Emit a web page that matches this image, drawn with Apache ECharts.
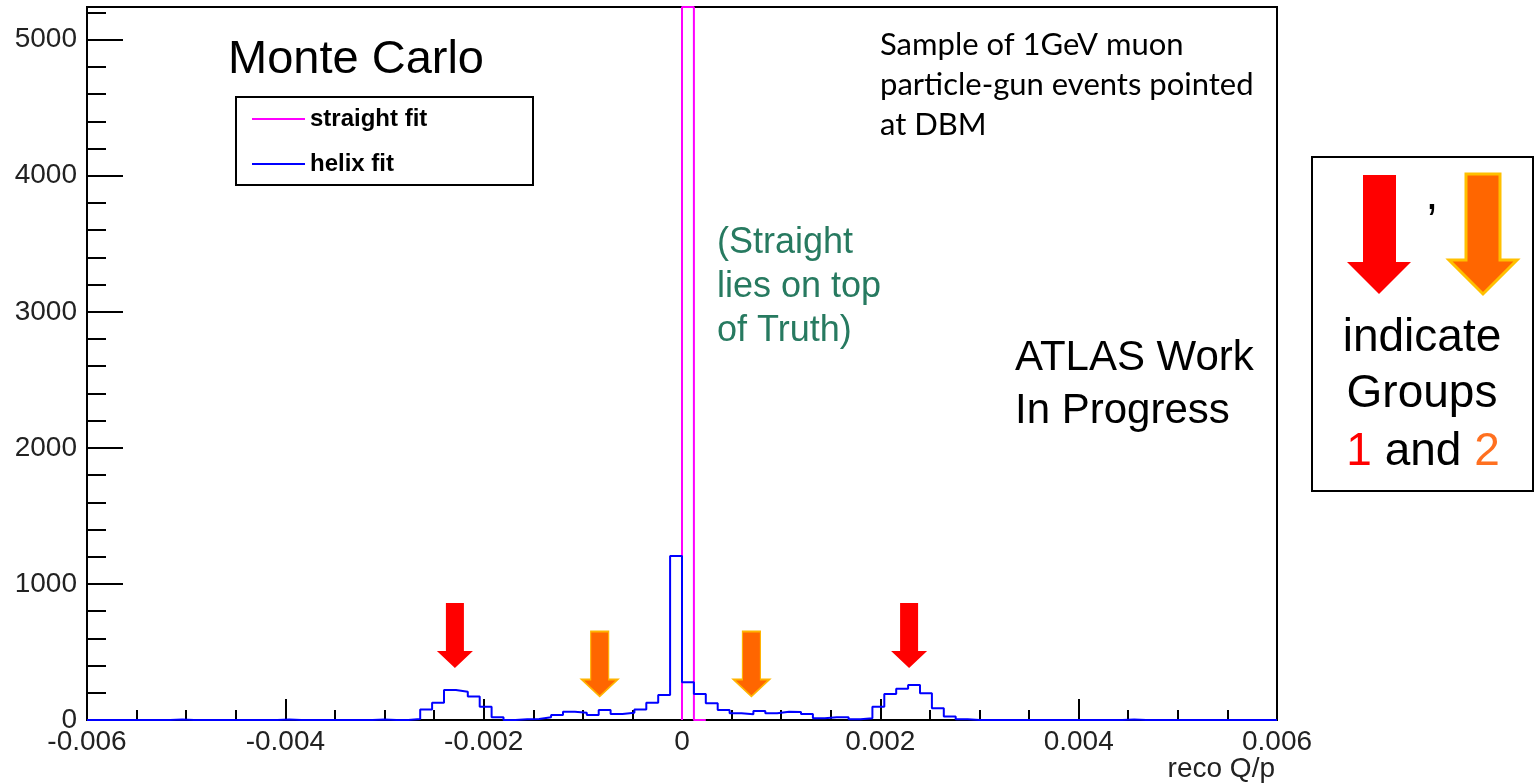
<!DOCTYPE html>
<html>
<head>
    <meta charset="utf-8">
    <title>reco Q/p - straight vs helix fit</title>
    <script src="https://cdn.jsdelivr.net/npm/echarts@6.0.0/dist/echarts.min.js"></script>
    <style type="text/css">
        html, body {
            margin: 0;
            padding: 0;
            background: #ffffff;
        }
        #main {
            width: 1537px;
            height: 783px;
        }
    </style>
</head>
<body>
<div id="main"></div>
<script>
    // histogram: 100 bins from -0.006 to 0.006
    var lowEdge = -0.006;
    var binWidth = 0.00012;

    // helix fit counts per bin
    var helixCounts = [
        0, 0, 0, 0, 0, 0, 0, 3, 0, 0,
        0, 0, 0, 0, 0, 0, 3, 0, 0, 0,
        0, 0, 0, 0, 4, 0, 0, 7, 78, 127,
        220, 208, 172, 98, 20, 0, 5, 8, 20, 37,
        61, 54, 37, 74, 44, 54, 78, 127, 184, 1205,
        277, 191, 123, 74, 49, 42, 66, 49, 61, 59,
        44, 12, 20, 20, 5, 12, 98, 191, 230, 257,
        196, 86, 25, 5, 0, 0, 0, 0, 0, 0,
        0, 0, 0, 0, 0, 0, 0, 4, 0, 0,
        0, 0, 0, 0, 0, 0, 0, 0, 0, 0
    ];

    // straight fit: everything in one bin just above 0, clipped at the frame top
    var straightBin = 50;
    var straightPeak = 5240;

    var yTicks = [0, 1000, 2000, 3000, 4000, 5000];
    var yMax = 5240;

    // arrows marking group 1 (red) and group 2 (orange)
    var group1Arrows = [[-0.00229, 621], [0.00229, 621]];
    var group2Arrows = [[-0.00083, 412], [0.00070, 412]];

    var FONT = '"Liberation Sans", Arial, sans-serif';

    // step points at the bin low edges, plus the closing edge.
    // hideEmpty: drop empty bins that are not next to a filled one (so the
    // straight fit does not paint over the helix baseline)
    function histPoints(counts, hideEmpty) {
        var pts = [];
        for (var i = 0; i < counts.length; i++) {
            var v = counts[i];
            if (hideEmpty && v === 0 && !(counts[i - 1] > 0)) {
                v = null;
            }
            pts.push([lowEdge + i * binWidth, v]);
        }
        pts.push([lowEdge + counts.length * binWidth, hideEmpty ? null : counts[counts.length - 1]]);
        return pts;
    }

    var straightCounts = [];
    for (var i = 0; i < helixCounts.length; i++) {
        straightCounts.push(i === straightBin ? straightPeak : 0);
    }
    // the rising edge of the spike needs a zero point right at its low edge
    var straightData = histPoints(straightCounts, true);
    straightData.splice(straightBin, 0, [lowEdge + straightBin * binWidth, 0]);

    var arrowPath = 'path://M9,0 L27,0 L27,48 L36,48 L18,65 L0,48 L9,48 Z';

    var chart = echarts.init(document.getElementById('main'), null, {renderer: 'canvas'});

    var option = {
        backgroundColor: '#ffffff',
        animation: false,
        grid: {
            left: 87,
            right: 260,
            top: 7,
            bottom: 63,
            show: true,
            borderColor: '#000',
            borderWidth: 2,
            backgroundColor: 'transparent'
        },
        legend: {
            left: 247,
            top: 102,
            orient: 'vertical',
            icon: 'rect',
            itemWidth: 53,
            itemHeight: 2,
            itemGap: 21,
            data: ['straight fit', 'helix fit'],
            textStyle: {
                fontFamily: FONT,
                fontWeight: 'bold',
                fontSize: 24,
                lineHeight: 20,
                color: '#000'
            }
        },
        xAxis: {
            type: 'value',
            min: -0.006,
            max: 0.006,
            interval: 0.002,
            axisLine: {show: true, onZero: false, lineStyle: {color: '#000', width: 2}},
            axisTick: {show: true, inside: true, length: 21, lineStyle: {color: '#000', width: 2}},
            minorTick: {show: true, splitNumber: 4, length: 10, lineStyle: {color: '#000', width: 2}},
            splitLine: {show: false},
            axisLabel: {
                margin: 8,
                fontFamily: FONT,
                fontSize: 28,
                color: '#222',
                formatter: function (v) {
                    if (Math.abs(v) < 1e-9) return '0';
                    return v.toFixed(3);
                }
            }
        },
        yAxis: {
            type: 'value',
            min: 0,
            max: yMax,
            interval: yTicks[1] - yTicks[0],
            axisLine: {show: true, onZero: false, lineStyle: {color: '#000', width: 2}},
            axisTick: {show: true, inside: true, length: 36, lineStyle: {color: '#000', width: 2}},
            minorTick: {show: true, splitNumber: 5, length: 19, lineStyle: {color: '#000', width: 2}},
            splitLine: {show: false},
            axisLabel: {
                margin: 10,
                showMaxLabel: false,
                fontFamily: FONT,
                fontSize: 28,
                color: '#222',
                formatter: function (v) {
                    return String(v);
                }
            }
        },
        series: [
            {
                name: 'straight fit',
                type: 'line',
                step: 'end',
                symbol: 'none',
                connectNulls: false,
                z: 2,
                color: '#ff00ff',
                lineStyle: {color: '#ff00ff', width: 2},
                data: straightData
            },
            {
                name: 'helix fit',
                type: 'line',
                step: 'end',
                symbol: 'none',
                z: 10,
                color: '#0000ff',
                lineStyle: {color: '#0000ff', width: 2},
                data: histPoints(helixCounts, false),
                markPoint: {
                    symbol: arrowPath,
                    symbolSize: [36, 65],
                    label: {show: false},
                    silent: true,
                    data: group1Arrows.map(function (c) {
                        return {coord: c, itemStyle: {color: '#ff0000'}};
                    }).concat(group2Arrows.map(function (c) {
                        return {coord: c, itemStyle: {color: '#ff6600', borderColor: '#ffb400', borderWidth: 1.5}};
                    }))
                }
            }
        ],
        graphic: [
            // legend frame
            {
                type: 'rect',
                shape: {x: 236, y: 97, width: 297, height: 88},
                style: {fill: 'none', stroke: '#000', lineWidth: 2},
                z: 10
            },
            {
                type: 'text',
                x: 228, y: 60,
                style: {
                    text: 'Monte Carlo',
                    font: '47px ' + FONT,
                    fill: '#000',
                    verticalAlign: 'middle'
                }
            },
            {
                type: 'text',
                x: 880, y: 85,
                style: {
                    text: 'Sample of 1GeV muon\nparticle-gun events pointed\nat DBM',
                    font: '31px Lato',
                    lineHeight: 40,
                    fill: '#000',
                    verticalAlign: 'middle'
                }
            },
            {
                type: 'text',
                x: 717, y: 287,
                style: {
                    text: '(Straight\nlies on top\nof Truth)',
                    font: '36px ' + FONT,
                    lineHeight: 44,
                    fill: '#277a60',
                    verticalAlign: 'middle'
                }
            },
            {
                type: 'text',
                x: 1015, y: 385,
                style: {
                    text: 'ATLAS Work\nIn Progress',
                    font: '42px ' + FONT,
                    lineHeight: 53,
                    fill: '#000',
                    verticalAlign: 'middle'
                }
            },
            {
                type: 'text',
                x: 1275, y: 769,
                style: {
                    text: 'reco Q/p',
                    font: '28px ' + FONT,
                    fill: '#222',
                    align: 'right',
                    verticalAlign: 'middle'
                }
            },
            // side box explaining the arrows
            {
                type: 'rect',
                shape: {x: 1312, y: 157, width: 221, height: 334},
                style: {fill: '#fff', stroke: '#000', lineWidth: 2}
            },
            {
                type: 'polygon',
                shape: {points: [[1363, 175], [1396, 175], [1396, 262], [1411, 262], [1379, 294], [1347, 262], [1363, 262]]},
                style: {fill: '#ff0000'}
            },
            {
                type: 'polygon',
                shape: {points: [[1466, 174], [1500, 174], [1500, 260], [1517, 260], [1483, 294], [1449, 260], [1466, 260]]},
                style: {fill: '#ff6600', stroke: '#ffc000', lineWidth: 3}
            },
            {
                type: 'text',
                x: 1432, y: 196,
                style: {text: ',', font: '46px ' + FONT, fill: '#000', align: 'center', verticalAlign: 'middle'}
            },
            {
                type: 'text',
                x: 1422, y: 338,
                style: {text: 'indicate', font: '46px ' + FONT, fill: '#000', align: 'center', verticalAlign: 'middle'}
            },
            {
                type: 'text',
                x: 1422, y: 394,
                style: {text: 'Groups', font: '46px ' + FONT, fill: '#000', align: 'center', verticalAlign: 'middle'}
            },
            {
                type: 'text',
                x: 1423, y: 452,
                style: {
                    text: '{r|1} and {o|2}',
                    font: '46px ' + FONT,
                    fill: '#000',
                    align: 'center',
                    verticalAlign: 'middle',
                    rich: {
                        r: {fill: '#ff0000', font: '46px ' + FONT},
                        o: {fill: '#ff7020', font: '46px ' + FONT}
                    }
                }
            }
        ]
    };

    chart.setOption(option);
</script>
</body>
</html>
